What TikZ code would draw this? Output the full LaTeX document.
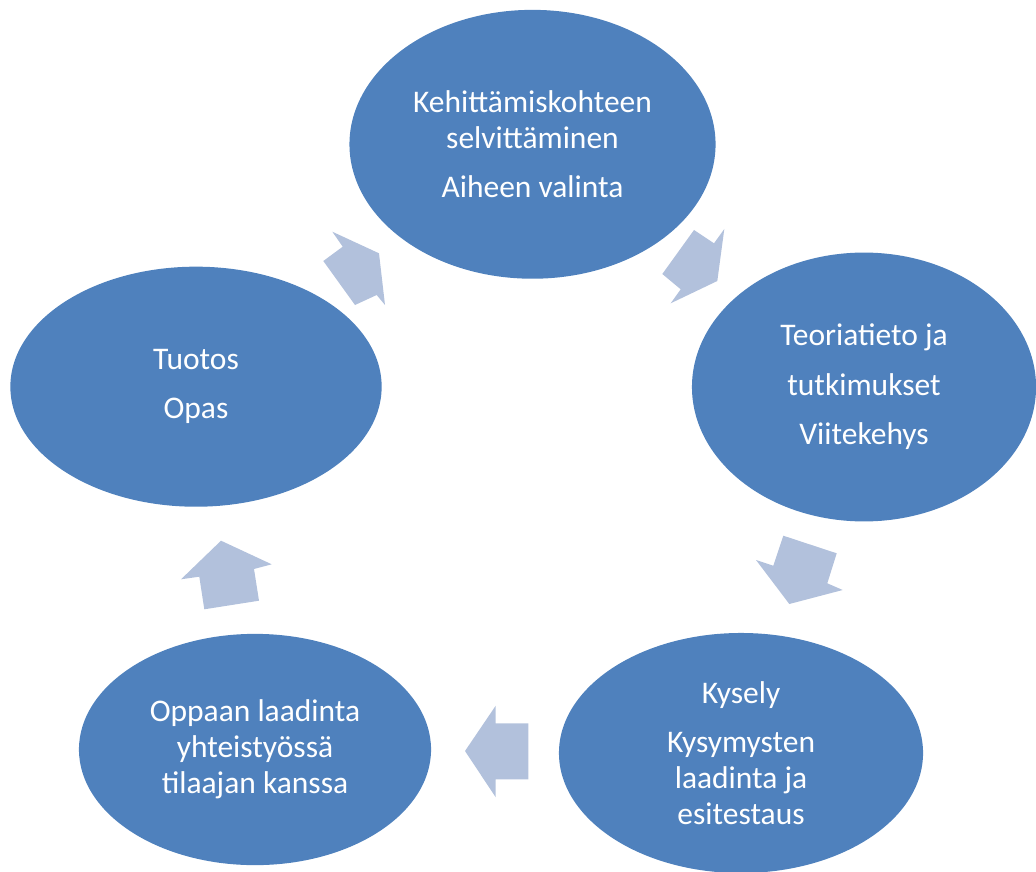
\documentclass[tikz,border=0pt]{standalone}
\usepackage{fontspec}
\setmainfont{Carlito}
\usepackage{tikz}
\usetikzlibrary{shapes.geometric}
\definecolor{stageblue}{RGB}{79,129,189}
\definecolor{arrowblue}{RGB}{178,193,220}

\begin{document}
\begin{tikzpicture}[
  x=0.025cm, y=-0.025cm,
  stage/.style={ellipse, fill=stageblue, text=white, align=center, inner sep=0pt,
    font=\fontsize{22.4}{25.6}\selectfont},
  blockarrow/.style={fill=arrowblue}
]
  \useasboundingbox (0,0) rectangle (1036,872);

  \node[stage, minimum width=9.15cm, minimum height=6.72cm] (aihe) at (532.5,144.3)
    {Kehittämiskohteen\\selvittäminen\\[9.5pt]Aiheen valinta};
  \node[stage, minimum width=8.6cm, minimum height=6.72cm] (teoria) at (864,387)
    {Teoriatieto ja\\[9.5pt]tutkimukset\\[9.5pt]Viitekehys};
  \node[stage, minimum width=9.1cm, minimum height=6.0cm] (kysely) at (741,753)
    {Kysely\\[9.5pt]Kysymysten\\laadinta ja\\esitestaus};
  \node[stage, minimum width=8.8cm, minimum height=5.78cm] (laadinta) at (255,749.5)
    {Oppaan laadinta\\yhteistyössä\\tilaajan kanssa};
  \node[stage, minimum width=9.28cm, minimum height=6.0cm] (tuotos) at (196,386.7)
    {Tuotos\\[9.5pt]Opas};

  % cycle arrows
  \fill[blockarrow] (694,230) -- (714,243.3) -- (724.3,229) -- (717.3,281)
    -- (670.7,303.3) -- (680.7,289.3) -- (662.3,274) -- cycle;
  \fill[blockarrow] (783.3,535.7) -- (836.7,553.3) -- (827.3,583.3) -- (842.7,590)
    -- (789.3,604) -- (756,560) -- (773.3,565.7) -- cycle;
  \fill[blockarrow] (465,751) -- (495.7,705.7) -- (495.7,723.3) -- (528.3,723.3)
    -- (528.3,779.3) -- (495.7,779.3) -- (495.7,797.3) -- cycle;
  \fill[blockarrow] (221,540.7) -- (271.7,564.3) -- (254,569) -- (259,600.7)
    -- (204.3,609.3) -- (199.3,576.7) -- (181,579.3) -- cycle;
  \fill[blockarrow] (332.3,231.7) -- (379,253.3) -- (385,305) -- (376.7,295)
    -- (355,305) -- (323.3,261) -- (342.7,246.7) -- cycle;
\end{tikzpicture}
\end{document}
